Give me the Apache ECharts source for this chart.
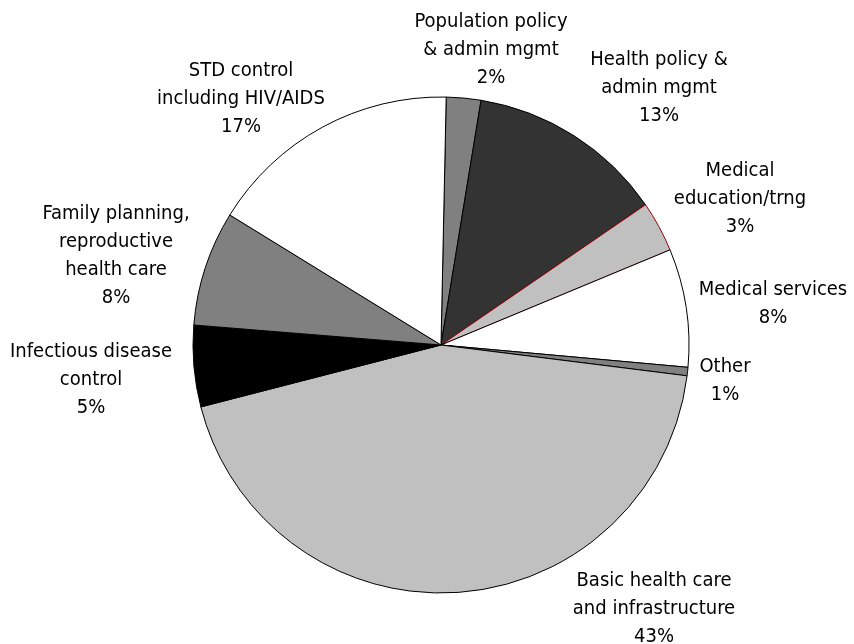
<!DOCTYPE html>
<html>
<head>
<meta charset="utf-8">
<script src="https://cdn.jsdelivr.net/npm/echarts@6/dist/echarts.min.js"></script>
<style>html,body{margin:0;padding:0;background:#fff;}#chart{width:854px;height:644px;}</style>
</head>
<body>
<div id="chart"></div>
<script>
// Categories (clockwise from 12 o'clock)
const categories = [
  'Population policy\n& admin mgmt',
  'Health policy &\nadmin mgmt',
  'Medical\neducation/trng',
  'Medical services',
  'Other',
  'Basic health care\nand infrastructure',
  'Infectious disease\ncontrol',
  'Family planning,\nreproductive\nhealth care',
  'STD control\nincluding HIV/AIDS'
];
// Slice sizes (percent of circle)
const values = [2.25, 12.85, 3.3, 7.7, 0.55, 44.0, 5.3, 7.5, 16.55];
// Percent labels as printed in the chart
const pctLabels = ['2%', '13%', '3%', '8%', '1%', '43%', '5%', '8%', '17%'];
// Slice fills
const colors = ['#808080', '#333333', '#c0c0c0', '#ffffff', '#808080', '#c0c0c0', '#000000', '#808080', '#ffffff'];
const borders = ['#000', '#000', '#a00000', '#000', '#000', '#000', '#000', '#000', '#000'];
// Label anchor positions (center of text block), layout only
const labelPos = [
  [491, 50], [659, 88], [740, 199], [773, 304], [725, 381],
  [654, 609], [91, 380], [116, 256], [241, 99]
];

const chart = echarts.init(document.getElementById('chart'), null, {renderer: 'canvas'});
chart.setOption({
  backgroundColor: '#ffffff',
  animation: false,
  series: [{
    type: 'pie',
    center: [441, 345],
    radius: 248,
    startAngle: 88.8,
    clockwise: true,
    avoidLabelOverlap: false,
    data: categories.map((c, i) => ({
      name: c,
      value: values[i],
      itemStyle: {color: colors[i], borderColor: borders[i], borderWidth: 1}
    })),
    label: {
      show: true,
      position: 'outside',
      formatter: function (p) { return p.name + '\n' + pctLabels[p.dataIndex]; },
      fontFamily: '"DejaVu Sans Condensed", "DejaVu Sans"',
      fontSize: 20,
      lineHeight: 28,
      color: '#000',
      align: 'center'
    },
    labelLine: {show: false},
    labelLayout: function (p) {
      const pos = labelPos[p.dataIndex];
      return {x: pos[0], y: pos[1], align: 'center', verticalAlign: 'middle', hideOverlap: false};
    },
    emphasis: {disabled: true}
  }]
});
</script>
</body>
</html>
